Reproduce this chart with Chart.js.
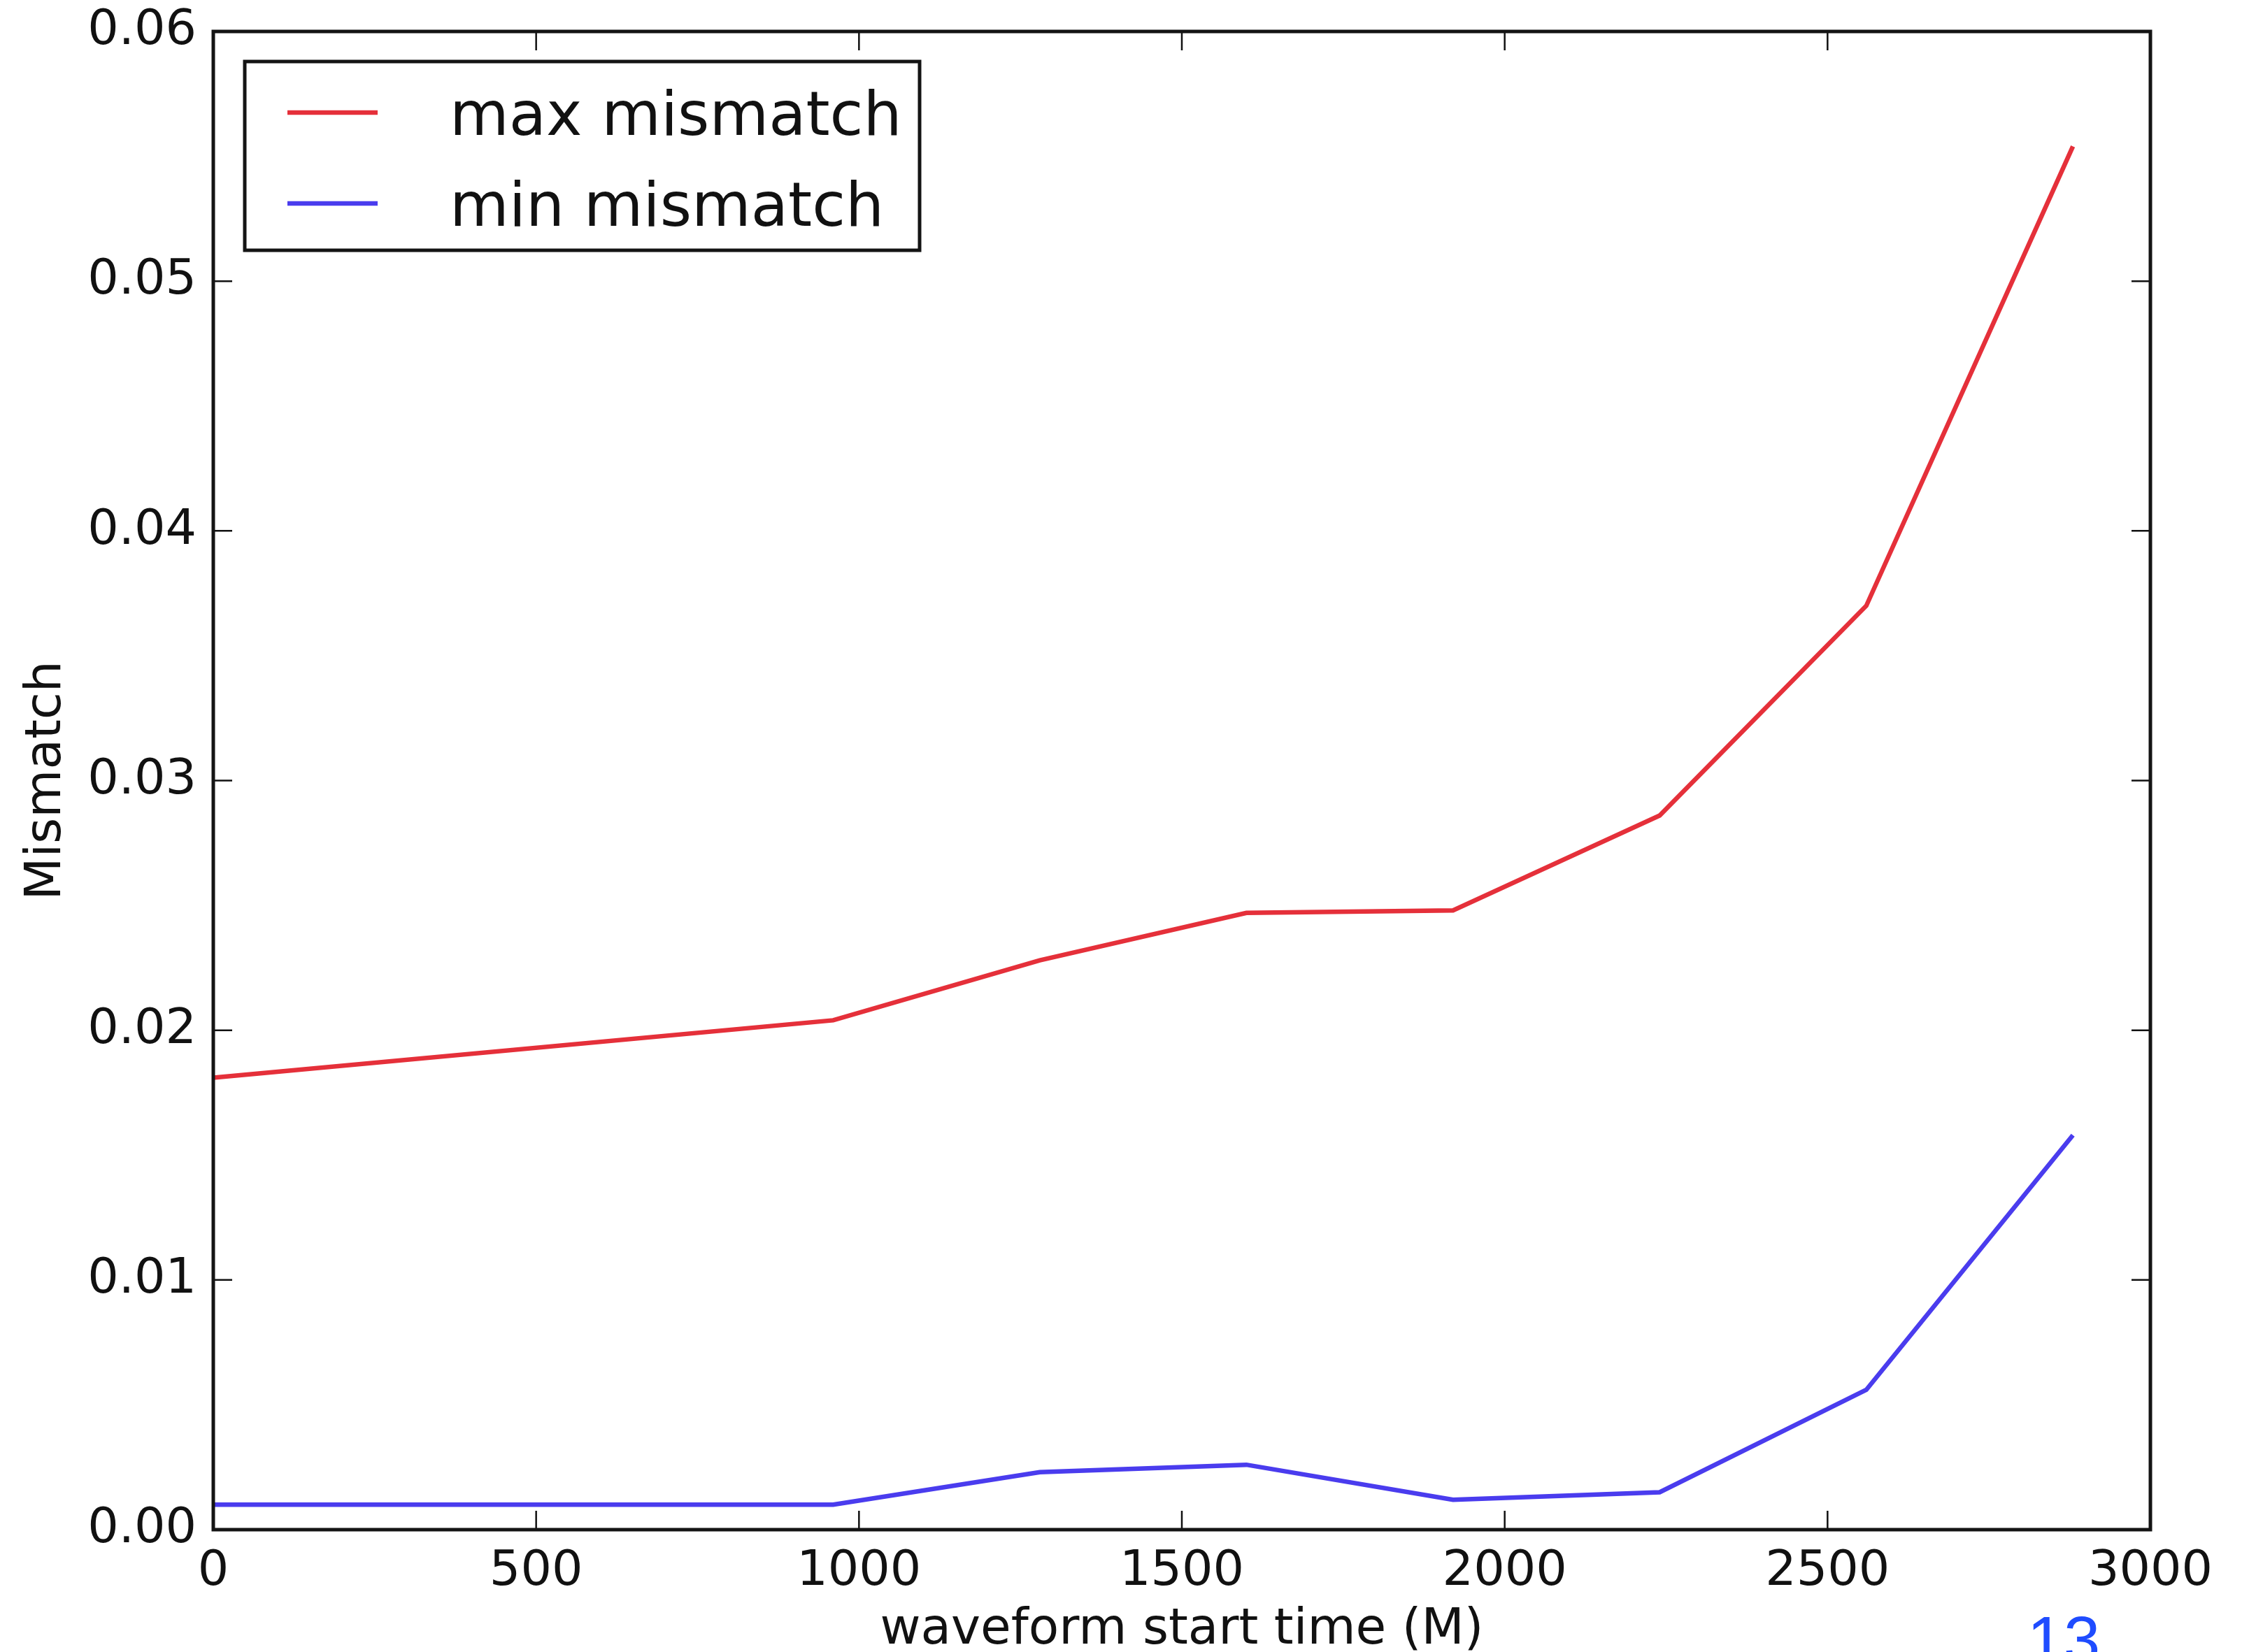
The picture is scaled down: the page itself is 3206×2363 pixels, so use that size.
<!DOCTYPE html>
<html><head><meta charset="utf-8">
<script src="https://cdn.jsdelivr.net/npm/chart.js@4.4.0/dist/chart.umd.min.js"></script>
<style>html,body{margin:0;padding:0;background:#fff;} #wrap{width:3206px;height:2363px;position:relative;}</style>
</head><body><div id="wrap"><canvas id="c" width="3206" height="2363"></canvas></div>
<script>
const startTimes = [0, 960, 1280, 1600, 1920, 2240, 2560, 2880];
const maxMismatch = [0.0181, 0.0204, 0.0228, 0.0247, 0.0248, 0.0286, 0.0370, 0.0554];
const minMismatch = [0.0010, 0.0010, 0.0023, 0.0026, 0.0012, 0.0015, 0.0056, 0.0158];
const seriesLabels = ['max mismatch', 'min mismatch'];
const xTickValues = [0, 500, 1000, 1500, 2000, 2500, 3000];
const yTickValues = [0.00, 0.01, 0.02, 0.03, 0.04, 0.05, 0.06];
const xTitle = 'waveform start time (M)';
const yTitle = 'Mismatch';
const pageNumber = '13';

const RED = '#e5303a';
const BLUE = '#4a3cee';

Chart.defaults.font.family = "'DejaVu Sans', sans-serif";
Chart.defaults.color = '#111';

const toPoints = (xs, ys) => xs.map((x, i) => ({x: x, y: ys[i]}));

const decor = {
  id: 'decor',
  afterDraw(chart) {
    const {ctx, chartArea: a, scales: {x, y}} = chart;
    ctx.save();
    ctx.strokeStyle = '#111';
    ctx.lineWidth = 2.5;
    const L = 27;
    x.ticks.forEach(t => {
      const px = x.getPixelForValue(t.value);
      ctx.beginPath();
      ctx.moveTo(px, a.bottom); ctx.lineTo(px, a.bottom - L);
      ctx.moveTo(px, a.top); ctx.lineTo(px, a.top + L);
      ctx.stroke();
    });
    y.ticks.forEach(t => {
      const py = y.getPixelForValue(t.value);
      ctx.beginPath();
      ctx.moveTo(a.left, py); ctx.lineTo(a.left + L, py);
      ctx.moveTo(a.right, py); ctx.lineTo(a.right - L, py);
      ctx.stroke();
    });
    ctx.lineWidth = 5;
    ctx.strokeStyle = '#141414';
    ctx.strokeRect(a.left, a.top, a.right - a.left, a.bottom - a.top);

    const bx = a.left + 45, by = a.top + 43, bw = 965, bh = 270;
    ctx.fillStyle = '#fff';
    ctx.fillRect(bx, by, bw, bh);
    ctx.lineWidth = 5;
    ctx.strokeStyle = '#141414';
    ctx.strokeRect(bx, by, bw, bh);
    const rows = [a.top + 116, a.top + 246];
    chart.data.datasets.forEach((ds, i) => {
      const ry = rows[i];
      ctx.strokeStyle = ds.borderColor;
      ctx.lineWidth = 6.5;
      ctx.beginPath();
      ctx.moveTo(a.left + 106, ry); ctx.lineTo(a.left + 235, ry);
      ctx.stroke();
      ctx.fillStyle = '#111';
      ctx.font = "87px 'DejaVu Sans', sans-serif";
      ctx.textAlign = 'left';
      ctx.textBaseline = 'alphabetic';
      ctx.fillText(ds.label, a.left + 338, ry + 32);
    });

    ctx.fillStyle = '#1f4cff';
    ctx.font = "94px 'Liberation Sans', Arial, sans-serif";
    ctx.textAlign = 'center';
    ctx.textBaseline = 'alphabetic';
    ctx.fillText(pageNumber, 2951, 2378);
    ctx.restore();
  }
};

new Chart(document.getElementById('c'), {
  type: 'line',
  data: {
    datasets: [
      {label: seriesLabels[0], data: toPoints(startTimes, maxMismatch), borderColor: RED, borderWidth: 6.5, pointRadius: 0, tension: 0, fill: false},
      {label: seriesLabels[1], data: toPoints(startTimes, minMismatch), borderColor: BLUE, borderWidth: 6.5, pointRadius: 0, tension: 0, fill: false}
    ]
  },
  options: {
    responsive: false,
    devicePixelRatio: 1,
    animation: false,
    layout: {padding: {left: 0, top: 45, right: 131, bottom: 0}},
    plugins: {legend: {display: false}, tooltip: {enabled: false}},
    scales: {
      x: {
        type: 'linear', min: 0, max: 3000,
        afterBuildTicks: s => { s.ticks = xTickValues.map(v => ({value: v})); },
        afterFit: s => { s.height = 175; s.paddingLeft = 0; s.paddingRight = 0; },
        grid: {display: false, drawTicks: false},
        border: {display: false},
        ticks: {font: {size: 70}, padding: 19, maxRotation: 0, autoSkip: false, callback: v => String(v)},
        title: {display: true, text: xTitle, font: {size: 71, lineHeight: 0.85}, padding: {top: 0, bottom: 0}}
      },
      y: {
        type: 'linear', min: 0, max: 0.06,
        afterBuildTicks: s => { s.ticks = yTickValues.map(v => ({value: v})); },
        afterFit: s => { s.width = 305; s.paddingTop = 0; s.paddingBottom = 0; },
        grid: {display: false, drawTicks: false},
        border: {display: false},
        ticks: {font: {size: 70}, padding: 24, autoSkip: false, callback: v => Number(v).toFixed(2)},
        title: {display: true, text: yTitle, font: {size: 71, lineHeight: 1}, padding: {top: 32, bottom: 0}}
      }
    }
  },
  plugins: [decor]
});
</script>
</body></html>
